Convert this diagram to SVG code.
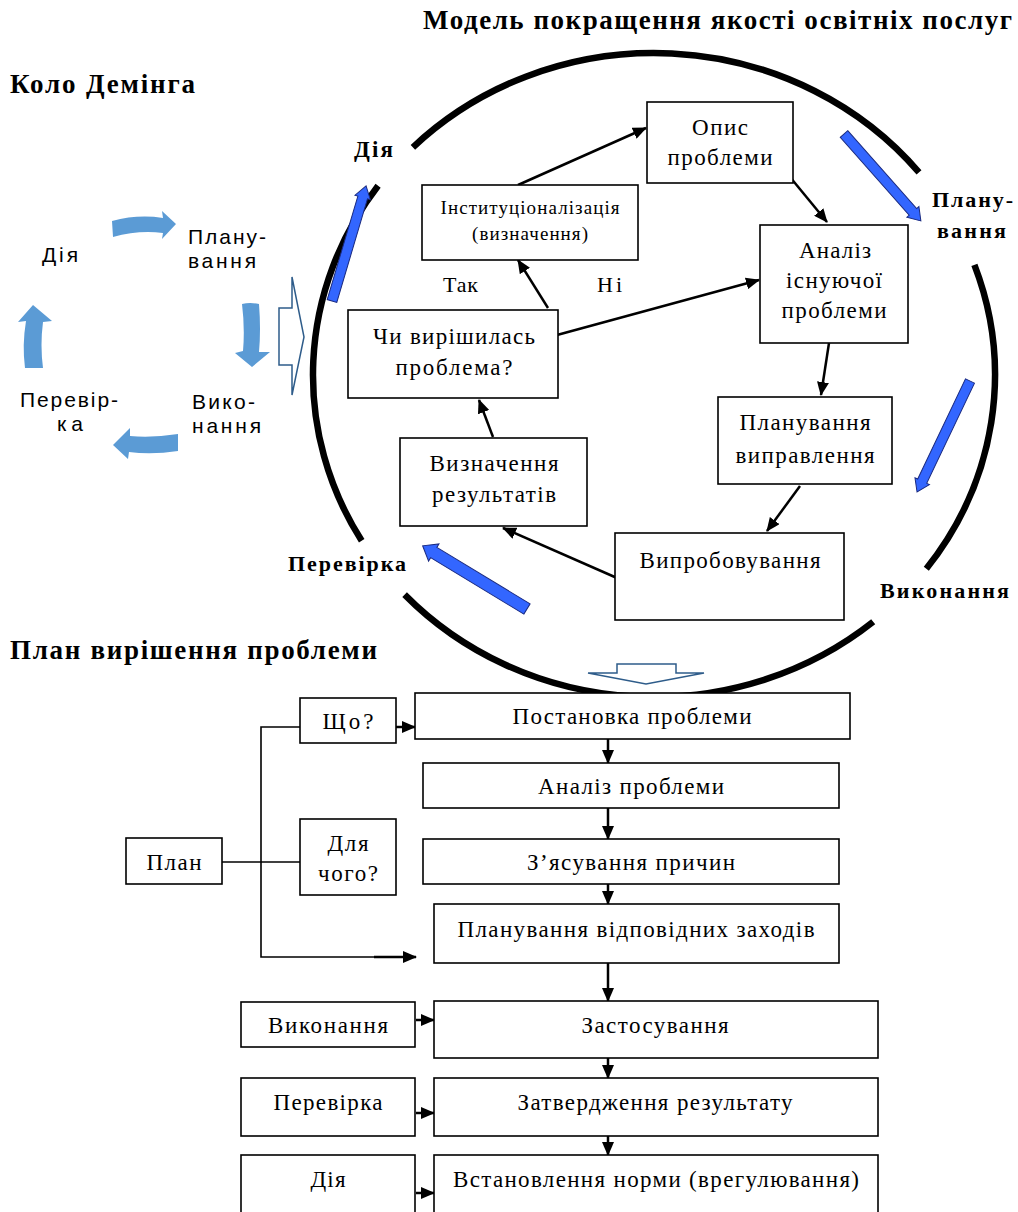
<svg xmlns="http://www.w3.org/2000/svg" width="1018" height="1212" viewBox="0 0 1018 1212">
<style>
.t{font-family:"Liberation Serif","Times New Roman",serif;fill:#000}
.b{font-weight:bold}
.s{font-family:"Liberation Sans",Arial,sans-serif;fill:#000;font-size:21px}
.n{font-size:23px;text-anchor:middle}
.m{font-size:23px;text-anchor:middle}
.box{fill:#fff;stroke:#000;stroke-width:1.6}
.con{fill:none;stroke:#000;stroke-width:2.5}
.thin{fill:none;stroke:#000;stroke-width:1.6}
.ring{fill:none;stroke:#000;stroke-width:6.5}
.lb{fill:#5B9BD5}
.bb{fill:#3366FF;stroke:#1a2a80;stroke-width:1}
.ob{fill:none;stroke:#2E5C8A;stroke-width:1.5}
</style>
<defs>
<marker id="ah" markerUnits="userSpaceOnUse" markerWidth="14" markerHeight="12" refX="13" refY="6" orient="auto">
<path d="M0,0 L14,6 L0,12 Z" fill="#000"/>
</marker>
</defs>

<!-- titles -->
<text class="t b" x="423" y="29" font-size="27" textLength="589">Модель покращення якості освітніх послуг</text>
<text class="t b" x="10" y="93" font-size="27" textLength="185">Коло Демінга</text>
<text class="t b" x="10" y="659" font-size="27" textLength="367">План вирішення проблеми</text>

<!-- Deming circle (left) -->
<g id="deming">
<text class="s" x="42" y="262" textLength="36">Дія</text>
<text class="s" x="188" y="244" textLength="78">Плану-</text>
<text class="s" x="188" y="268" textLength="68">вання</text>
<text class="s" x="192" y="409" textLength="63">Вико-</text>
<text class="s" x="192" y="433" textLength="69">нання</text>
<text class="s" x="20" y="407" textLength="98">Перевір-</text>
<text class="s" x="57" y="431" textLength="26">ка</text>
<path class="lb" d="M112,221 Q138,214 163,218 L162,211 L176,224 L162,239 L163,233 Q138,230 113,237 Z"/>
<path class="lb" d="M242,304 Q250,302 259,304 Q261,330 259,352 L270,352 L252,367 L235,353 L243,351 Q245,328 242,304 Z"/>
<path class="lb" d="M178,434 Q152,438 130,436 L130,428 L113,445 L128,459 L129,452 Q152,455 178,451 Z"/>
<path class="lb" d="M25,368 Q22,345 26,321 L18,322 L33,305 L52,321 L43,322 Q40,345 43,368 Z"/>
<path class="ob" d="M279,308 L292,308 L292,277 L304,337 L292,395 L292,365 L279,365 Z"/>
</g>

<!-- big ring -->
<g id="ring">
<path class="ring" d="M412.9,147.3 A341,322 0 0 1 919.0,172.4"/>
<path class="ring" d="M974.4,264.9 A341,322 0 0 1 926.3,568.8"/>
<path class="ring" d="M873.2,621.7 A341,322 0 0 1 404.6,594.6"/>
<path class="ring" d="M361.7,540.8 A341,322 0 0 1 378.1,185.7"/>
<path class="bb" transform="translate(332,301) rotate(-73.5)" d="M0,-5 L108,-5 L108,-8 L120,0 L108,8 L108,5 L0,5 Z"/>
<path class="bb" transform="translate(844,134) rotate(48.5)" d="M0,-5 L104,-5 L104,-8 L116,0 L104,8 L104,5 L0,5 Z"/>
<path class="bb" transform="translate(970,381) rotate(115.5)" d="M0,-5 L111,-5 L111,-8 L123,0 L111,8 L111,5 L0,5 Z"/>
<path class="bb" transform="translate(527,609) rotate(211.2)" d="M0,-6 L109,-6 L109,-10 L122,0 L109,10 L109,6 L0,6 Z"/>
<text class="t b" x="354" y="157" font-size="23" textLength="39">Дія</text>
<text class="t b" x="932" y="207" font-size="22" textLength="81">Плану-</text>
<text class="t b" x="937" y="238" font-size="22" textLength="69">вання</text>
<text class="t b" x="880" y="598" font-size="22" textLength="129">Виконання</text>
<text class="t b" x="288" y="571" font-size="22" textLength="118">Перевірка</text>
<text class="t" x="443" y="292" font-size="22" textLength="35">Так</text>
<text class="t" x="597" y="292" font-size="22" textLength="25">Ні</text>
</g>

<!-- connectors -->
<g id="connectors">
<line class="con" x1="518" y1="185" x2="646" y2="128" marker-end="url(#ah)"/>
<line class="con" x1="548" y1="308" x2="518" y2="260" marker-end="url(#ah)"/>
<line class="con" x1="557" y1="335" x2="759" y2="280" marker-end="url(#ah)"/>
<line class="con" x1="790" y1="177" x2="827" y2="222" marker-end="url(#ah)"/>
<line class="con" x1="829" y1="343" x2="821" y2="395" marker-end="url(#ah)"/>
<line class="con" x1="800" y1="486" x2="767" y2="531" marker-end="url(#ah)"/>
<line class="con" x1="617" y1="578" x2="503" y2="528" marker-end="url(#ah)"/>
<line class="con" x1="493" y1="437" x2="479" y2="400" marker-end="url(#ah)"/>

<path class="ob" d="M617,673 L617,664 L676,664 L676,673 L704,673 L646,684 L588,673 Z"/>

<polyline class="thin" points="300,727 261,727 261,957 400,957"/>
<line class="thin" x1="222" y1="862" x2="300" y2="862"/>
<line class="con" x1="374" y1="957" x2="416" y2="957" marker-end="url(#ah)"/>
<line class="con" x1="396" y1="727" x2="415" y2="727" marker-end="url(#ah)"/>
<line class="con" x1="608" y1="739" x2="608" y2="763" marker-end="url(#ah)"/>
<line class="con" x1="608" y1="808" x2="608" y2="839" marker-end="url(#ah)"/>
<line class="con" x1="608" y1="884" x2="608" y2="904" marker-end="url(#ah)"/>
<line class="con" x1="608" y1="963" x2="608" y2="1001" marker-end="url(#ah)"/>
<line class="con" x1="608" y1="1058" x2="608" y2="1078" marker-end="url(#ah)"/>
<line class="con" x1="608" y1="1136" x2="608" y2="1155" marker-end="url(#ah)"/>
<line class="con" x1="416" y1="1020" x2="434" y2="1020" marker-end="url(#ah)"/>
<line class="con" x1="416" y1="1113" x2="434" y2="1113" marker-end="url(#ah)"/>
<line class="con" x1="416" y1="1193" x2="434" y2="1193" marker-end="url(#ah)"/>
</g>

<!-- circle nodes -->
<g id="n-opys"><rect class="box" x="647" y="102" width="146" height="81"/>
<text class="t n" x="720" y="135" textLength="56">Опис</text>
<text class="t n" x="720" y="165" textLength="105">проблеми</text></g>
<g id="n-inst"><rect class="box" x="422" y="185" width="216" height="75"/>
<text class="t" x="530" y="214" font-size="19" text-anchor="middle" textLength="179">Інституціоналізація</text>
<text class="t" x="530" y="240" font-size="19" text-anchor="middle" textLength="116">(визначення)</text></g>
<g id="n-analiz"><rect class="box" x="760" y="225" width="148" height="118"/>
<text class="t n" x="835" y="258" textLength="72">Аналіз</text>
<text class="t n" x="834" y="288" textLength="96">існуючої</text>
<text class="t n" x="834" y="318" textLength="105">проблеми</text></g>
<g id="n-chy"><rect class="box" x="348" y="310" width="210" height="88"/>
<text class="t n" x="454" y="344" textLength="162">Чи вирішилась</text>
<text class="t n" x="454" y="375" textLength="117">проблема?</text></g>
<g id="n-plan"><rect class="box" x="718" y="397" width="174" height="87"/>
<text class="t n" x="805" y="430" textLength="131">Планування</text>
<text class="t n" x="805" y="463" textLength="139">виправлення</text></g>
<g id="n-vyzn"><rect class="box" x="400" y="438" width="187" height="88"/>
<text class="t n" x="494" y="471" textLength="129">Визначення</text>
<text class="t n" x="494" y="502" textLength="124">результатів</text></g>
<g id="n-vypr"><rect class="box" x="615" y="533" width="229" height="87"/>
<text class="t n" x="730" y="568" textLength="181">Випробовування</text></g>

<!-- plan section nodes -->
<g id="n-postan"><rect class="box" x="415" y="693" width="435" height="46"/>
<text class="t m" x="632" y="724" textLength="239">Постановка проблеми</text></g>
<g id="n-analprob"><rect class="box" x="423" y="763" width="416" height="45"/>
<text class="t m" x="631" y="794" textLength="186">Аналіз проблеми</text></g>
<g id="n-zjas"><rect class="box" x="423" y="839" width="416" height="45"/>
<text class="t m" x="631" y="870" textLength="208">З’ясування причин</text></g>
<g id="n-planzah"><rect class="box" x="434" y="904" width="405" height="59"/>
<text class="t m" x="636" y="937" textLength="357">Планування відповідних заходів</text></g>
<g id="n-plan2"><rect class="box" x="126" y="838" width="96" height="46"/>
<text class="t m" x="174" y="870" textLength="55">План</text></g>
<g id="n-scho"><rect class="box" x="300" y="698" width="96" height="45"/>
<text class="t m" x="348" y="729" textLength="51">Що?</text></g>
<g id="n-dlia"><rect class="box" x="300" y="819" width="96" height="76"/>
<text class="t m" x="348" y="851" textLength="41">Для</text>
<text class="t m" x="348" y="881" textLength="60">чого?</text></g>
<g id="n-vyk"><rect class="box" x="241" y="1002" width="174" height="45"/>
<text class="t m" x="328" y="1033" textLength="120">Виконання</text></g>
<g id="n-zast"><rect class="box" x="434" y="1001" width="444" height="57"/>
<text class="t m" x="655" y="1033" textLength="147">Застосування</text></g>
<g id="n-perev"><rect class="box" x="241" y="1078" width="174" height="58"/>
<text class="t m" x="328" y="1110" textLength="109">Перевірка</text></g>
<g id="n-zatv"><rect class="box" x="434" y="1078" width="444" height="58"/>
<text class="t m" x="655" y="1110" textLength="275">Затвердження результату</text></g>
<g id="n-dia"><rect class="box" x="241" y="1155" width="174" height="70"/>
<text class="t m" x="328" y="1187" textLength="35">Дія</text></g>
<g id="n-vstan"><rect class="box" x="434" y="1155" width="444" height="70"/>
<text class="t m" x="656" y="1187" textLength="406">Встановлення норми (врегулювання)</text></g>
</svg>
